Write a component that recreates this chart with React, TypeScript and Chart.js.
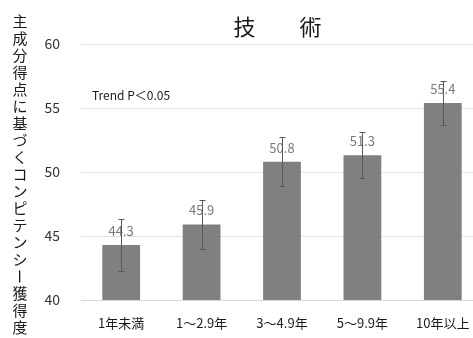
import React, { useEffect, useRef } from "react";
import { Chart, registerables } from "chart.js";

Chart.register(...registerables);

const categories = ["1年未満", "1～2.9年", "3～4.9年", "5～9.9年", "10年以上"];
const means = [44.3, 45.9, 50.8, 51.3, 55.4];
const errors = [2.0, 1.9, 1.9, 1.8, 1.7];
const yTicks = [40, 45, 50, 55, 60];
const titleText = "技　　術";
const yTitle = "主成分得点に基づくコンピテンシー獲得度";
const noteText = "Trend P＜0.05";

const FONT = "'Noto Sans CJK JP', 'Noto Sans', sans-serif";

const decorations = {
  id: "decorations",
  afterDatasetsDraw(chart: any) {
    const { ctx } = chart;
    const meta = chart.getDatasetMeta(0);
    const y = chart.scales.y;
    ctx.save();
    // value labels
    ctx.font = `13px ${FONT}`;
    ctx.fillStyle = "#7a7a7a";
    ctx.textAlign = "center";
    ctx.textBaseline = "middle";
    meta.data.forEach((bar: any, i: number) => {
      ctx.fillText(means[i].toFixed(1), bar.x, bar.y - 14);
    });
    // error bars
    ctx.strokeStyle = "#595959";
    ctx.lineWidth = 1;
    meta.data.forEach((bar: any, i: number) => {
      const x = Math.round(bar.x) + 0.5;
      const top = Math.round(y.getPixelForValue(means[i] + errors[i])) + 0.5;
      const bot = Math.round(y.getPixelForValue(means[i] - errors[i])) + 0.5;
      ctx.beginPath();
      ctx.moveTo(x, top);
      ctx.lineTo(x, bot);
      ctx.moveTo(x - 3, top);
      ctx.lineTo(x + 3, top);
      ctx.moveTo(x - 3, bot);
      ctx.lineTo(x + 3, bot);
      ctx.stroke();
    });
    ctx.restore();
  },
  afterDraw(chart: any) {
    const { ctx } = chart;
    ctx.save();
    // title
    ctx.font = `22px ${FONT}`;
    ctx.fillStyle = "#1a1a1a";
    ctx.textAlign = "center";
    ctx.textBaseline = "middle";
    ctx.fillText(titleText, 277.5, 27);
    // note
    ctx.font = `12px ${FONT}`;
    ctx.textAlign = "left";
    ctx.fillText(noteText, 92, 95);
    // vertical axis title, upright characters
    ctx.font = `15px ${FONT}`;
    ctx.fillStyle = "#1a1a1a";
    ctx.textAlign = "center";
    const chars = Array.from(yTitle);
    const startY = 21;
    const step = (327.5 - startY) / (chars.length - 1);
    chars.forEach((c, i) => {
      const cy = startY + i * step;
      if (c === "ー") {
        ctx.save();
        ctx.translate(20, cy);
        ctx.rotate(Math.PI / 2);
        ctx.fillText(c, 0, 0);
        ctx.restore();
      } else {
        ctx.fillText(c, 20, cy);
      }
    });
    ctx.restore();
  },
};

export default function App() {
  const ref = useRef<HTMLCanvasElement>(null);
  useEffect(() => {
    if (!ref.current) return;
    const chart = new Chart(ref.current, {
      type: "bar",
      data: {
        labels: categories,
        datasets: [
          {
            data: means,
            backgroundColor: "#808083",
            barPercentage: 0.47,
            categoryPercentage: 1,
          },
        ],
      },
      options: {
        animation: false,
        responsive: false,
        layout: { padding: { top: 44, right: 7, left: 0, bottom: 0 } },
        plugins: { legend: { display: false }, tooltip: { enabled: false } },
        scales: {
          x: {
            grid: { display: false, drawTicks: false },
            border: { color: "#d9d9d9", width: 1 },
            ticks: {
              padding: 15,
              color: "#1a1a1a",
              font: { family: FONT, size: 13 },
              maxRotation: 0,
              autoSkip: false,
            },
            afterFit: (s: any) => {
              s.height = 38;
            },
          },
          y: {
            min: 40,
            max: 60,
            afterBuildTicks: (s: any) => {
              s.ticks = yTicks.map((v) => ({ value: v }));
            },
            grid: { color: "#e3e3e3", drawTicks: false },
            border: { display: false },
            ticks: {
              padding: 21,
              color: "#333333",
              font: { family: FONT, size: 14 },
            },
            afterFit: (s: any) => {
              s.width = 81;
            },
          },
        },
      },
      plugins: [decorations],
    });
    return () => chart.destroy();
  }, []);
  return (
    <div
      style={{
        position: "absolute",
        left: 0,
        top: 0,
        width: 473,
        height: 338,
        overflow: "hidden",
        background: "#fff",
      }}
    >
      <canvas ref={ref} width={490} height={338} style={{ display: "block" }} />
    </div>
  );
}
